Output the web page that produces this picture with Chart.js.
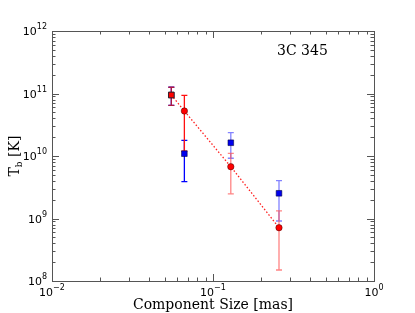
<!DOCTYPE html>
<html>
<head>
<meta charset="utf-8">
<script src="https://cdn.jsdelivr.net/npm/chart.js@4/dist/chart.umd.min.js"></script>
<style>
  html, body { margin: 0; padding: 0; background: #fff; }
  #wrap { width: 415px; height: 313px; }
</style>
</head>
<body>
<div id="wrap"><canvas id="tbChart" width="415" height="313"></canvas></div>
<script>
// component sizes [mas]
const sizeBlue = [0.0551, 0.0664, 0.129, 0.257];
const tbBlue = [9.46e10, 1.09e10, 1.63e10, 2.53e9];
const tbBlueHi = [1.26e11, 1.78e10, 2.36e10, 4.03e9];
const tbBlueLo = [6.47e10, 3.88e9, 9.2e9, 9.12e8];

const sizeRed = [0.0551, 0.0664, 0.129, 0.257];
const tbRed = [9.46e10, 5.25e10, 6.74e9, 7.13e8];
const tbRedHi = [1.26e11, 9.36e10, 1.1e10, 1.32e9];
const tbRedLo = [6.47e10, 1.2e10, 2.47e9, 1.5e8];

const xTickExp = [-2, -1, 0];
const yTickExp = [8, 9, 10, 11, 12];

const blueBarColors = ['rgba(0,0,255,0.9)', '#0000ff', 'rgba(90,90,255,0.75)', 'rgba(90,90,255,0.75)'];
const redBarColors = ['#b01840', '#ff1010', 'rgba(255,80,80,0.7)', 'rgba(255,80,80,0.7)'];

const pts = (xs, ys) => xs.map((x, i) => ({ x: x, y: ys[i] }));

// error bars drawn through the chart scales
const errorBars = {
    id: 'errorBars',
    beforeDatasetsDraw(chart) {
        const ctx = chart.ctx;
        const xs = chart.scales.x, ys = chart.scales.y;
        const draw = (xv, lo, hi, colors) => {
            xv.forEach((x, i) => {
                const px = xs.getPixelForValue(x);
                const pLo = ys.getPixelForValue(lo[i]);
                const pHi = ys.getPixelForValue(hi[i]);
                ctx.save();
                ctx.strokeStyle = colors[i];
                ctx.lineWidth = 1.3;
                ctx.beginPath();
                ctx.moveTo(px, pLo); ctx.lineTo(px, pHi);
                ctx.moveTo(px - 3, pLo); ctx.lineTo(px + 3, pLo);
                ctx.moveTo(px - 3, pHi); ctx.lineTo(px + 3, pHi);
                ctx.stroke();
                ctx.restore();
            });
        };
        draw(sizeBlue, tbBlueLo, tbBlueHi, blueBarColors);
        draw(sizeRed, tbRedLo, tbRedHi, redBarColors);
    }
};

// frame, matplotlib-style inward ticks and labels
const frameAndTicks = {
    id: 'frameAndTicks',
    afterDraw(chart) {
        const ctx = chart.ctx;
        const a = chart.chartArea;
        const xs = chart.scales.x, ys = chart.scales.y;
        ctx.save();
        ctx.strokeStyle = '#555';
        ctx.lineWidth = 1;
        ctx.strokeRect(Math.round(a.left) + 0.5, Math.round(a.top) + 0.5, Math.round(a.right - a.left), Math.round(a.bottom - a.top));

        ctx.beginPath();
        for (let e = -2; e <= 0; e++) {
            for (let m = 1; m <= 9; m++) {
                const v = m * Math.pow(10, e);
                if (v > 1) break;
                const px = Math.round(xs.getPixelForValue(v)) + 0.5;
                const len = m === 1 ? 7 : 3.5;
                ctx.moveTo(px, a.bottom); ctx.lineTo(px, a.bottom - len);
                ctx.moveTo(px, a.top); ctx.lineTo(px, a.top + len);
            }
        }
        for (let e = 8; e <= 12; e++) {
            for (let m = 1; m <= 9; m++) {
                const v = m * Math.pow(10, e);
                if (v > 1e12) break;
                const py = Math.round(ys.getPixelForValue(v)) + 0.5;
                const len = m === 1 ? 7 : 3.5;
                ctx.moveTo(a.left, py); ctx.lineTo(a.left + len, py);
                ctx.moveTo(a.right, py); ctx.lineTo(a.right - len, py);
            }
        }
        ctx.stroke();

        ctx.fillStyle = '#000';
        ctx.textBaseline = 'alphabetic';
        // x tick labels
        xTickExp.forEach(e => {
            const px = xs.getPixelForValue(Math.pow(10, e));
            ctx.font = '11px "DejaVu Sans"';
            const w1 = ctx.measureText('10').width;
            ctx.font = '8px "DejaVu Sans"';
            const sup = String(e).replace('-', '\u2212');
            const w2 = ctx.measureText(sup).width;
            const x0 = px - (w1 + w2) / 2;
            ctx.font = '11px "DejaVu Sans"';
            ctx.fillText('10', x0, a.bottom + 15);
            ctx.font = '8px "DejaVu Sans"';
            ctx.fillText(sup, x0 + w1, a.bottom + 9);
        });
        // y tick labels
        yTickExp.forEach(e => {
            const py = ys.getPixelForValue(Math.pow(10, e));
            ctx.font = '8px "DejaVu Sans"';
            const sup = String(e);
            const w2 = ctx.measureText(sup).width;
            ctx.font = '11px "DejaVu Sans"';
            const w1 = ctx.measureText('10').width;
            const x0 = a.left - 5 - w1 - w2;
            ctx.fillText('10', x0, py + 4);
            ctx.font = '8px "DejaVu Sans"';
            ctx.fillText(sup, x0 + w1, py - 2);
        });

        // axis titles
        ctx.font = '14px "DejaVu Serif"';
        ctx.textAlign = 'center';
        ctx.fillText('Component Size [mas]', (a.left + a.right) / 2, a.bottom + 28);

        ctx.save();
        ctx.translate(19, (a.top + a.bottom) / 2);
        ctx.rotate(-Math.PI / 2);
        ctx.textAlign = 'left';
        ctx.font = '14px "DejaVu Serif"';
        const wT = ctx.measureText('T').width;
        ctx.font = '9px "DejaVu Serif"';
        const wb = ctx.measureText('b').width;
        ctx.font = '14px "DejaVu Serif"';
        const wK = ctx.measureText(' [K]').width;
        let x = -(wT + wb + wK) / 2;
        ctx.fillText('T', x, 0);
        ctx.font = '9px "DejaVu Serif"';
        ctx.fillText('b', x + wT, 3);
        ctx.font = '14px "DejaVu Serif"';
        ctx.fillText(' [K]', x + wT + wb, 0);
        ctx.restore();

        // source name
        ctx.font = '14px "DejaVu Serif"';
        ctx.textAlign = 'left';
        ctx.fillText('3C 345', 277, 55);
        ctx.restore();
    }
};

const ctx = document.getElementById('tbChart').getContext('2d');
new Chart(ctx, {
    type: 'scatter',
    data: {
        datasets: [
            {
                label: 'red',
                order: 0,
                data: pts(sizeRed, tbRed),
                showLine: true,
                borderColor: '#ff2020',
                borderWidth: 1.3,
                borderDash: [1.5, 2],
                pointStyle: ['rect', 'circle', 'circle', 'circle'],
                pointRadius: [4, 3.2, 3.2, 3.2],
                pointBackgroundColor: '#ff0000',
                pointBorderColor: ['#222', 'rgba(60,0,0,0.6)', 'rgba(60,0,0,0.6)', 'rgba(60,0,0,0.6)'],
                pointBorderWidth: 0.8
            },
            {
                label: 'blue',
                order: 1,
                data: pts(sizeBlue, tbBlue),
                showLine: false,
                pointStyle: 'rect',
                pointRadius: 4,
                pointBackgroundColor: '#0000ee',
                pointBorderColor: 'rgba(0,0,60,0.7)',
                pointBorderWidth: 0.8
            }
        ]
    },
    options: {
        responsive: false,
        animation: false,
        layout: { padding: { left: 52, right: 41, top: 31, bottom: 32 } },
        plugins: {
            legend: { display: false },
            tooltip: { enabled: false }
        },
        scales: {
            x: { type: 'logarithmic', min: 0.01, max: 1, display: false },
            y: { type: 'logarithmic', min: 1e8, max: 1e12, display: false }
        }
    },
    plugins: [errorBars, frameAndTicks]
});
</script>
</body>
</html>
